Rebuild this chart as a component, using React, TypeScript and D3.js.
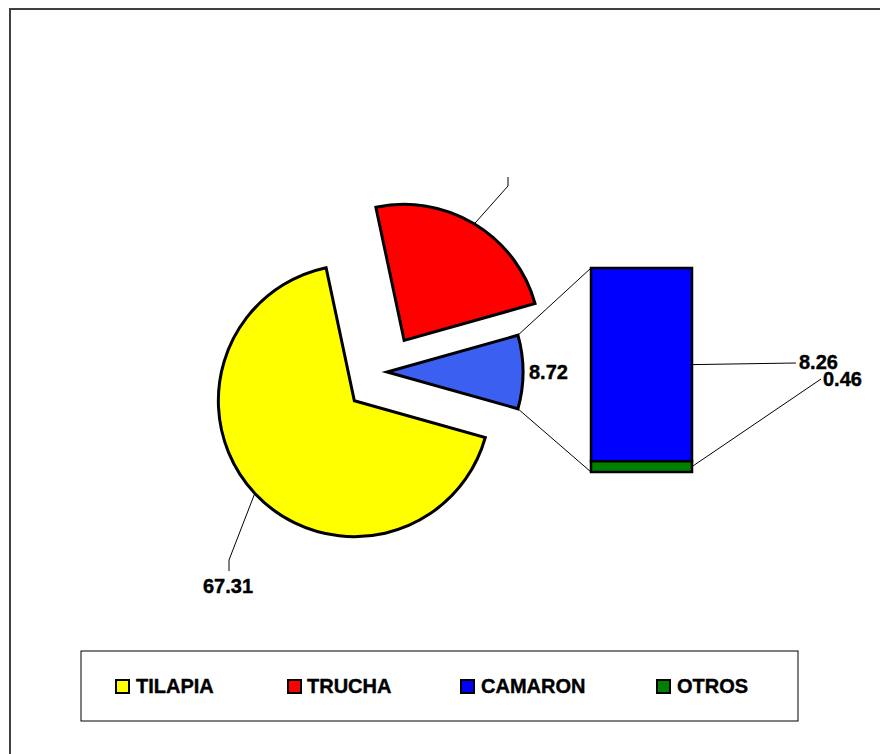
import React from "react";
import * as d3 from "d3";

const categories = ["TILAPIA", "TRUCHA", "CAMARON", "OTROS"];
const values = [67.31, 23.97, 8.26, 0.46];
const colors = ["#ffff00", "#ff0000", "#0000ff", "#008000"];
const pieLabels = ["67.31", "", "8.72"];
const barLabels = ["8.26", "0.46"];

const W = 880;
const H = 754;

export default function App() {
  const otherSum = values[2] + values[3];
  const primary = [
    { name: "OTHER", value: otherSum },
    { name: categories[0], value: values[0] },
    { name: categories[1], value: values[1] },
  ];
  const total = d3.sum(primary, (d) => d.value);
  const angle = d3.scaleLinear().domain([0, total]).range([0, 2 * Math.PI]);
  const startOffset = Math.PI / 2 - angle(otherSum) / 2;

  const cx = 385, cy = 372, R = 136;
  const explode = [2, 42, 37];

  let acc = 0;
  const slices = primary.map((d, i) => {
    const s = startOffset + angle(acc);
    acc += d.value;
    const e = startOffset + angle(acc);
    const mid = (s + e) / 2;
    const ox = cx + explode[i] * Math.sin(mid);
    const oy = cy - explode[i] * Math.cos(mid);
    return { ...d, s, e, mid, ox, oy };
  });

  const arcGen = d3.arc<any>().innerRadius(0).outerRadius(R);
  const pt = (sl: any, a: number, r: number) => [sl.ox + r * Math.sin(a), sl.oy - r * Math.cos(a)];

  // bar
  const barX = 591, barW = 101;
  const y = d3.scaleLinear().domain([0, otherSum]).range([472, 268]);
  const seg = [
    { v0: values[3], v1: otherSum, color: colors[2] },
    { v0: 0, v1: values[3], color: colors[3] },
  ];

  const other = slices[0];
  const oTop = pt(other, other.s, R);
  const oBot = pt(other, other.e, R);

  const til = slices[1];
  const tilA = pt(til, til.mid, R + 1);
  const tru = slices[2];
  const truA = pt(tru, tru.mid, R + 1);

  const sliceFill = ["url(#otherGrad)", colors[0], colors[1]];

  const legendSq = [116, 288, 461, 657];
  const legendTx = [136, 307, 481, 677];

  return (
    <svg width={W} height={H} style={{ position: "absolute", left: 0, top: 0 }} fontFamily="'Liberation Sans', Arial, sans-serif">
      <defs>
        <linearGradient id="otherGrad" gradientUnits="userSpaceOnUse" x1={430} y1={312} x2={522} y2={412}>
          <stop offset="0" stopColor="#3b5ff0" />
          <stop offset="0.45" stopColor="#4444ff" />
          <stop offset="0.75" stopColor="#3d5cec" />
          <stop offset="1" stopColor="#2f8a4c" />
        </linearGradient>
      </defs>
      <rect x={0} y={0} width={W} height={H} fill="#fff" />
      <path d={`M10,${H + 5} L10,9 L${W + 5},9`} fill="none" stroke="#404040" strokeWidth={2} />

      {slices.map((sl, i) => (
        <path
          key={i}
          d={arcGen({ startAngle: sl.s, endAngle: sl.e }) as string}
          transform={`translate(${sl.ox},${sl.oy})`}
          fill={sliceFill[i]}
          stroke="#000"
          strokeWidth={3}
          strokeLinejoin="miter"
        />
      ))}

      {/* connectors */}
      <line x1={oTop[0]} y1={oTop[1]} x2={barX} y2={y(otherSum)} stroke="#000" strokeWidth={1} />
      <line x1={oBot[0]} y1={oBot[1]} x2={barX} y2={y(0)} stroke="#000" strokeWidth={1} />

      {seg.map((s, i) => (
        <rect key={i} x={barX} y={y(s.v1)} width={barW} height={y(s.v0) - y(s.v1)} fill={s.color} stroke="#000" strokeWidth={2.5} />
      ))}

      {/* leaders */}
      <polyline points={`${tilA[0]},${tilA[1]} 229,560 229,571`} fill="none" stroke="#000" strokeWidth={1} />
      <polyline points={`${truA[0]},${truA[1]} 508,186 508,177`} fill="none" stroke="#000" strokeWidth={1} />
      <line x1={barX + barW} y1={(y(values[3]) + y(otherSum)) / 2} x2={796} y2={363} stroke="#000" strokeWidth={1} />
      <line x1={barX + barW} y1={(y(0) + y(values[3])) / 2} x2={821} y2={379} stroke="#000" strokeWidth={1} />

      <g fontWeight="bold" fontSize={20} fill="#000" stroke="#000" strokeWidth={0.4}>
        <text x={203} y={593}>{pieLabels[0]}</text>
        <text x={529} y={379}>{pieLabels[2]}</text>
        <text x={799} y={369}>{barLabels[0]}</text>
        <text x={823} y={386}>{barLabels[1]}</text>
      </g>

      {/* legend */}
      <rect x={81} y={651} width={717} height={70} fill="#fff" stroke="#000" strokeWidth={1} />
      {categories.map((c, i) => (
        <g key={c}>
          <rect x={legendSq[i]} y={680} width={13} height={13} fill={colors[i]} stroke="#000" strokeWidth={2} />
          <text x={legendTx[i]} y={693} fontWeight="bold" fontSize={20} stroke="#000" strokeWidth={0.4}>{c}</text>
        </g>
      ))}
    </svg>
  );
}
